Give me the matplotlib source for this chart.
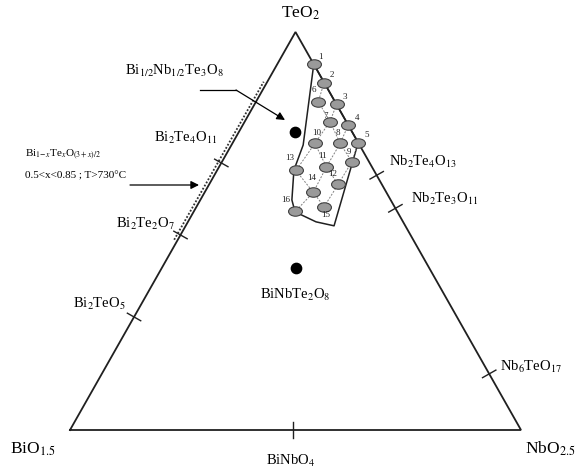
import numpy as np
import matplotlib.pyplot as plt
from matplotlib.path import Path

plt.rcParams['font.family'] = ['Liberation Serif', 'DejaVu Serif']
plt.rcParams['mathtext.fontset'] = 'stix'

# triangle height / base as drawn in the figure
H = 0.8825

# compositions as (TeO2, NbO2.5) fractions, BiO1.5 = 1 - Te - Nb
sample_ids = list(range(1, 17))
sample_te = [0.919, 0.873, 0.818, 0.766, 0.722, 0.825, 0.775, 0.720,
             0.674, 0.720, 0.661, 0.617, 0.652, 0.597, 0.561, 0.549]
sample_nb = [0.081, 0.127, 0.182, 0.234, 0.278, 0.138, 0.189, 0.239,
             0.288, 0.183, 0.238, 0.286, 0.175, 0.241, 0.283, 0.225]

# dashed composition grid (sample numbers)
grid_rows = [[6, 7, 8, 9], [10, 11, 12], [13, 14, 15]]
grid_cols = [[2, 6], [3, 7, 10, 13], [4, 8, 11, 14, 16], [5, 9, 12, 15]]

# solid outline of the glass-forming domain
domain_te = [0.919, 0.716, 0.653, 0.578, 0.548, 0.523, 0.513, 0.722, 0.919]
domain_nb = [0.081, 0.159, 0.170, 0.203, 0.225, 0.284, 0.329, 0.278, 0.081]

# compounds on the edges
left_names = [r'Bi$_2$TeO$_5$', r'Bi$_2$Te$_2$O$_7$', r'Bi$_2$Te$_4$O$_{11}$']
left_te = [0.284, 0.49, 0.671]
right_names = [r'Nb$_2$Te$_4$O$_{13}$', r'Nb$_2$Te$_3$O$_{11}$', r'Nb$_6$TeO$_{17}$']
right_te = [0.64, 0.557, 0.141]
bottom_names = [r'BiNbO$_4$']
bottom_nb = [0.494]

# ternary compounds inside the triangle
dot_names = [r'Bi$_{1/2}$Nb$_{1/2}$Te$_3$O$_8$', r'BiNbTe$_2$O$_8$']
dot_te = [0.749, 0.407]
dot_nb = [0.125, 0.298]

# Bi(1-x)Te(x)O solid solution strip
strip_te = [0.478, 0.875]
strip_nb = [-0.008, -0.008]


def tern(te, nb):
    te = np.asarray(te, dtype=float)
    nb = np.asarray(nb, dtype=float)
    return nb + te / 2, te * H


def px(X, Y):
    # pixel position in the 576x468 image -> data coords
    return (X - 70) / 451, (430 - Y) / 451


fig = plt.figure(figsize=(5.76, 4.68), dpi=100)
ax = fig.add_axes([0, 0, 1, 1])
ax.set_xlim(-70 / 451, 506 / 451)
ax.set_ylim(-38 / 451, 430 / 451)
ax.axis('off')

# triangle
tx, ty = tern([0, 0, 1, 0], [0, 1, 0, 0])
ax.plot(tx, ty, color='#202020', lw=1.3, solid_joinstyle='miter', zorder=2)

# edge ticks
half = 0.017


def tick(x, y, dx, dy):
    n = np.hypot(dx, dy)
    ox, oy = -dy / n * half, dx / n * half
    ax.plot([x - ox, x + ox], [y - oy, y + oy], color='#202020', lw=1.0, zorder=2)


lx, ly = tern(left_te, [0] * len(left_te))
for x, y in zip(lx, ly):
    tick(x, y, 0.5, H)
rx, ry = tern(right_te, 1 - np.array(right_te))
for x, y in zip(rx, ry):
    tick(x, y, -0.5, H)
bx, by = tern([0] * len(bottom_nb), bottom_nb)
for x, y in zip(bx, by):
    tick(x, y, 1, 0)

# dotted strip along the Bi-Te edge
sx, sy = tern(strip_te, strip_nb)
ax.plot(sx, sy, color='#303030', lw=1.3, ls=(0, (1, 1)), zorder=2)

# domain outline
dx_, dy_ = tern(domain_te, domain_nb)
ax.plot(dx_, dy_, color='#202020', lw=1.1, zorder=3)

# dashed grid between samples
sxs, sys_ = tern(sample_te, sample_nb)
for line in grid_rows + grid_cols:
    idx = [i - 1 for i in line]
    ax.plot(sxs[idx], sys_[idx], color='#808080', lw=0.7, ls=(0, (2, 1.5)), zorder=3)

# sample ellipses
circ = Path.unit_circle()
ell = Path(circ.vertices * np.array([1.0, 0.68]), circ.codes)
ax.scatter(sxs, sys_, marker=ell, s=100, facecolor='#9a9a9a', edgecolor='#404040',
           linewidths=0.8, zorder=4)

num_offsets = [(7, 7), (8, 8), (8, 7), (9, 7), (9, 8), (-4, 12), (-4, 6), (-2, 10),
               (-3, 10), (2, 10), (-4, 11), (-5, 10), (-6, 12), (-2, 14), (2, -8), (-10, 11)]
for sid, x, y, off in zip(sample_ids, sxs, sys_, num_offsets):
    ax.annotate(str(sid), (x, y), xytext=(off[0] * 0.72, off[1] * 0.72),
                textcoords='offset points', ha='center', va='center',
                fontsize=6.5, color='#202020', zorder=5)

# black dots
ddx, ddy = tern(dot_te, dot_nb)
ax.scatter(ddx, ddy, s=55, color='black', zorder=4)

# vertex labels
ax.text(*px(300, 13), r'TeO$_2$', fontsize=12.5, ha='center', va='center')
ax.text(*px(33, 449), r'BiO$_{1.5}$', fontsize=12.5, ha='center', va='center')
ax.text(*px(550, 449), r'NbO$_{2.5}$', fontsize=12.5, ha='center', va='center')

# compound labels
left_pos = [(99, 304), (145, 224), (186, 138)]
for name, p in zip(left_names, left_pos):
    ax.text(*px(*p), name, fontsize=10.5, ha='center', va='center')
right_pos = [(423, 162), (445, 199), (531, 367)]
for name, p in zip(right_names, right_pos):
    ax.text(*px(*p), name, fontsize=10.5, ha='center', va='center')
ax.text(*px(291, 461), bottom_names[0], fontsize=10.5, ha='center', va='center')
ax.text(*px(174, 71), dot_names[0], fontsize=10.5, ha='center', va='center')
ax.text(*px(295, 295), dot_names[1], fontsize=10.5, ha='center', va='center')

# solid solution note
ax.text(*px(25, 155), r'Bi$_{1\!-\!x}$Te$_x$O$_{(3+x)/2}$', fontsize=8,
        ha='left', va='center')
ax.text(*px(25, 176), '0.5<x<0.85 ; T>730°C', fontsize=8, ha='left', va='center')

# arrows
arrow_kw = dict(arrowstyle='-|>', color='black', lw=0.9, mutation_scale=12,
                shrinkA=0, shrinkB=0)
ax.plot(*zip(px(200, 90), px(236, 90)), color='black', lw=0.9)
ax.annotate('', xy=px(285, 120), xytext=px(236, 90), arrowprops=arrow_kw)
ax.annotate('', xy=px(199, 185), xytext=px(130, 185), arrowprops=arrow_kw)

fig.savefig('out.png', dpi=100)
